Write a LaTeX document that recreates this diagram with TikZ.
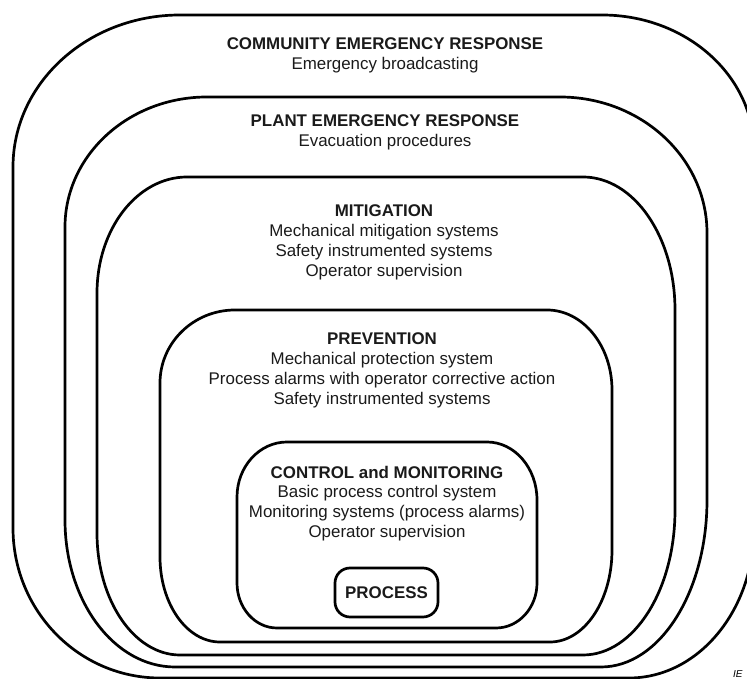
\documentclass[tikz,border=0pt]{standalone}
\usepackage{fontspec}
\setmainfont{Liberation Sans}
\usepackage{tikz}
\usepackage{xcolor}
\definecolor{textcolor1}{HTML}{1a1a1a}

\begin{document}
\begin{tikzpicture}[x = 1pt, y = 1pt,
        zone/.style = {draw, line width = 2.7pt},
        layertext/.style = {align = center, inner sep = 0pt, text = textcolor1, font = \fontsize{16.9pt}{19.8pt}\selectfont}]
        \useasboundingbox (0, 0) rectangle (747, 679);
        % Layers, outermost first
        \draw [zone] (180, 664) -- (602, 664) arc [start angle = 90, end angle = 0, x radius = 152, y radius = 135] -- (754, 151) arc [start angle = 0, end angle = -90, x radius = 125, y radius = 150] -- (160, 1) arc [start angle = 270, end angle = 180, x radius = 147, y radius = 150] -- (13, 512) arc [start angle = 180, end angle = 90, x radius = 167, y radius = 152] -- cycle;
        \draw [zone] (207, 582) -- (560, 582) arc [start angle = 90, end angle = 0, x radius = 147, y radius = 136] -- (707, 179) arc [start angle = 0, end angle = -90, x radius = 106, y radius = 167] -- (175, 12) arc [start angle = 270, end angle = 180, x radius = 110, y radius = 147] -- (65, 452) arc [start angle = 180, end angle = 90, x radius = 142, y radius = 130] -- cycle;
        \draw [zone] (187, 502) -- (583, 502) arc [start angle = 90, end angle = 0, x radius = 92, y radius = 133] -- (675, 169) arc [start angle = 0, end angle = -90, x radius = 92, y radius = 145] -- (180, 24) arc [start angle = 270, end angle = 180, x radius = 83, y radius = 122] -- (97, 386) arc [start angle = 180, end angle = 90, x radius = 90, y radius = 116] -- cycle;
        \draw [zone] (235, 369) -- (547, 369) arc [start angle = 90, end angle = 0, x radius = 65, y radius = 80] -- (612, 129) arc [start angle = 0, end angle = -90, x radius = 62, y radius = 92] -- (220, 37) arc [start angle = 270, end angle = 180, x radius = 60, y radius = 85] -- (160, 296) arc [start angle = 180, end angle = 90, x radius = 75, y radius = 73] -- cycle;
        \draw [zone] (287, 237) -- (487, 237) arc [start angle = 90, end angle = 0, x radius = 50, y radius = 58] -- (537, 96) arc [start angle = 0, end angle = -90, x radius = 41, y radius = 45] -- (277, 51) arc [start angle = 270, end angle = 180, x radius = 40, y radius = 45] -- (237, 182) arc [start angle = 180, end angle = 90, x radius = 50, y radius = 55] -- cycle;
        % Texts
        \node [layertext] (community) at (385, 623.5) {\textbf{COMMUNITY EMERGENCY RESPONSE}\\Emergency broadcasting};
        \node [layertext] (plant) at (385, 547) {\textbf{PLANT EMERGENCY RESPONSE}\\Evacuation procedures};
        \node [layertext] (mitigation) at (384, 436.5) {\textbf{MITIGATION}\\Mechanical mitigation systems\\Safety instrumented systems\\Operator supervision};
        \node [layertext] (prevention) at (382, 308.5) {\textbf{PREVENTION}\\Mechanical protection system\\Process alarms with operator corrective action\\Safety instrumented systems};
        \node [layertext] (control) at (387, 175.5) {\textbf{CONTROL and MONITORING}\\Basic process control system\\Monitoring systems (process alarms)\\Operator supervision};
        % Core
        \node [draw, line width = 2.7pt, rounded corners = 15pt, minimum width = 103pt, minimum height = 49pt, text = textcolor1, font = \fontsize{16.9pt}{19.8pt}\selectfont\bfseries] (process) at (386.5, 86.5) {PROCESS};
        \node [anchor = base west, inner sep = 0pt, font = \fontsize{10pt}{12pt}\selectfont\itshape] (mark) at (733, 1.5) {IE};
\end{tikzpicture}
\end{document}
